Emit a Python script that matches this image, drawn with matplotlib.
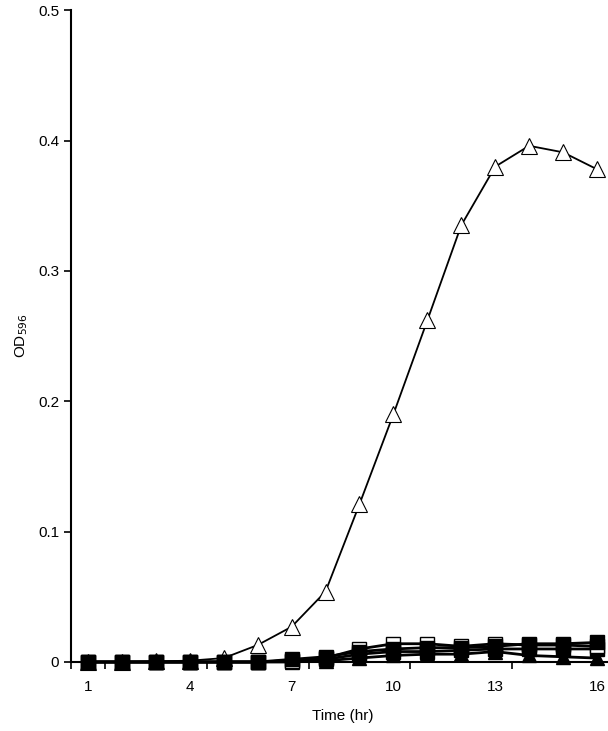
import matplotlib.pyplot as plt
from matplotlib.ticker import FixedLocator

plt.rcParams['font.family'] = ['Liberation Sans', 'DejaVu Sans']

# time points (hr)
hours = list(range(1, 17))
tick_hours = [1, 4, 7, 10, 13, 16]

# OD596 values
od_open_tri = [0.0, 0.0, 0.0005, 0.001, 0.003, 0.013, 0.027, 0.054,
               0.121, 0.190, 0.262, 0.335, 0.380, 0.396, 0.391, 0.378]
od_open_sq = [0.0, 0.0, 0.0, 0.0, 0.0, 0.0, 0.001, 0.003,
              0.010, 0.014, 0.014, 0.012, 0.014, 0.013, 0.013, 0.012]
od_fill_sq = [0.0, 0.0, 0.0, 0.0, 0.0, 0.0, 0.002, 0.004,
              0.008, 0.010, 0.011, 0.011, 0.012, 0.014, 0.014, 0.015]
od_fill_sq2 = [0.0, 0.0, 0.0, 0.0, 0.0, 0.0, 0.001, 0.002,
               0.006, 0.008, 0.008, 0.009, 0.010, 0.010, 0.010, 0.010]
od_fill_tri = [0.0, 0.0, 0.0, 0.0, 0.0, 0.0, 0.0, 0.001,
               0.003, 0.005, 0.006, 0.006, 0.008, 0.005, 0.004, 0.003]

fig = plt.figure(figsize=(6.08, 7.31), dpi=100)
ax = fig.add_axes([0.1168, 0.0944, 0.893, 0.8916])

# big growth curve drawn first so the flat series sit on top at the start
ax.plot(hours, od_open_tri, color='black', lw=1.3, marker='^', ms=12,
        mfc='white', mec='black', mew=0.8, clip_on=False, zorder=2)
ax.plot(hours, od_fill_tri, color='black', lw=2, marker='^', ms=10,
        mfc='black', mec='black', clip_on=False, zorder=3)
ax.plot(hours, od_fill_sq2, color='black', lw=2, marker='s', ms=9.5,
        mfc='black', mec='black', clip_on=False, zorder=3)
ax.plot(hours, od_open_sq, color='black', lw=2, marker='s', ms=9.5,
        mfc='white', mec='black', clip_on=False, zorder=3)
ax.plot(hours, od_fill_sq, color='black', lw=2, marker='s', ms=9.5,
        mfc='black', mec='black', clip_on=False, zorder=3)

ax.set_xlim(0.5, 16.5)
ax.set_ylim(0, 0.5)

ax.set_xticks(tick_hours)
ax.set_xticklabels([str(h) for h in tick_hours])
ax.xaxis.set_minor_locator(FixedLocator([0.5, 1.5, 4.5, 7.5, 10.5, 13.5, 16.5]))
ax.tick_params(axis='x', which='major', length=0, pad=13, labelsize=11)
ax.tick_params(axis='x', which='minor', length=5, width=1.2, direction='out')

ax.set_yticks([0, 0.1, 0.2, 0.3, 0.4, 0.5])
ax.set_yticklabels(['0', '0.1', '0.2', '0.3', '0.4', '0.5'])
ax.tick_params(axis='y', length=5, width=1.2, direction='out', labelsize=11)

for side in ['top', 'right']:
    ax.spines[side].set_visible(False)
for side in ['left', 'bottom']:
    ax.spines[side].set_linewidth(1.5)

ax.set_xlabel('Time (hr)', fontsize=11, labelpad=11)
ax.set_ylabel(r'OD$_{596}$', fontsize=11, labelpad=6)

fig.savefig('out.png', dpi=100)
